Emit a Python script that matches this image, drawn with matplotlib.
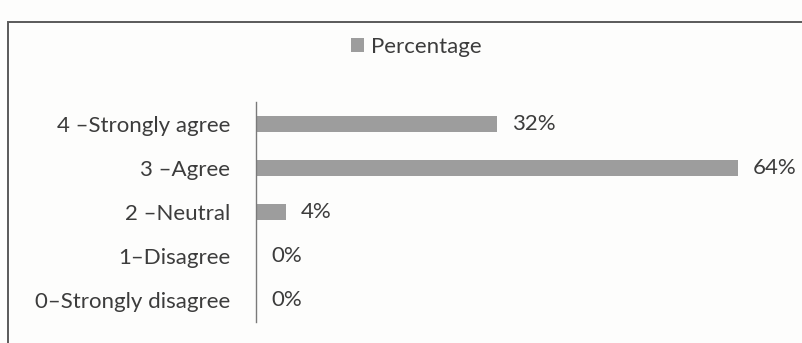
import matplotlib.pyplot as plt
import matplotlib.transforms as mtransforms
from matplotlib.patches import Rectangle, Patch

plt.rcParams["font.family"] = ["Lato", "DejaVu Sans"]

# data
categories = ["4 \u2013Strongly agree", "3 \u2013Agree", "2 \u2013Neutral",
              "1\u2013Disagree", "0\u2013Strongly disagree"]
percentages = [32, 64, 4, 0, 0]
value_labels = ["32%", "64%", "4%", "0%", "0%"]

W, H = 803, 343
fig = plt.figure(figsize=(W / 100, H / 100), dpi=100, facecolor="#fdfdfc")

# outer chart border (cut off at right and bottom like the scan)
fig.patches.append(Rectangle((8 / W, -0.2), 1.2, 1.2 - 22 / H,
                             transform=fig.transFigure, fill=False,
                             edgecolor="#5a5a5a", lw=1.4))

ax = fig.add_axes([256 / W, 1 - 322 / H, 527 / W, 220 / H])
ax.set_facecolor("none")

text_col = "#3c3c3c"
fs = 16
ypos = list(range(len(categories)))
ax.barh(ypos, percentages, height=0.37, color="#9d9d9d", edgecolor="none")
ax.set_xlim(0, 70)
ax.set_ylim(len(categories) - 0.5, -0.5)

for y, v, lab in zip(ypos, percentages, value_labels):
    ax.text(v + 2.0, y, lab, va="center", ha="left", fontsize=fs, color=text_col)

ax.set_yticks(ypos)
ax.set_yticklabels(categories, fontsize=fs, color=text_col)
shift = mtransforms.ScaledTranslation(0, -2 / 100, fig.dpi_scale_trans)
for t in ax.get_yticklabels():
    t.set_transform(t.get_transform() + shift)
ax.tick_params(axis="y", length=0, pad=18.5)
ax.set_xticks([])
for s in ["top", "right", "bottom"]:
    ax.spines[s].set_visible(False)
ax.spines["left"].set_color("#7a7a7a")
ax.spines["left"].set_linewidth(1.0)

fig.legend(handles=[Patch(facecolor="#9d9d9d", edgecolor="none", label="Percentage")],
           loc="center", bbox_to_anchor=(416 / W, 1 - 47 / H), frameon=False,
           fontsize=fs, handlelength=0.6, handleheight=0.6, handletextpad=0.3,
           labelcolor=text_col)

fig.savefig("out.png", dpi=100, facecolor=fig.get_facecolor())
